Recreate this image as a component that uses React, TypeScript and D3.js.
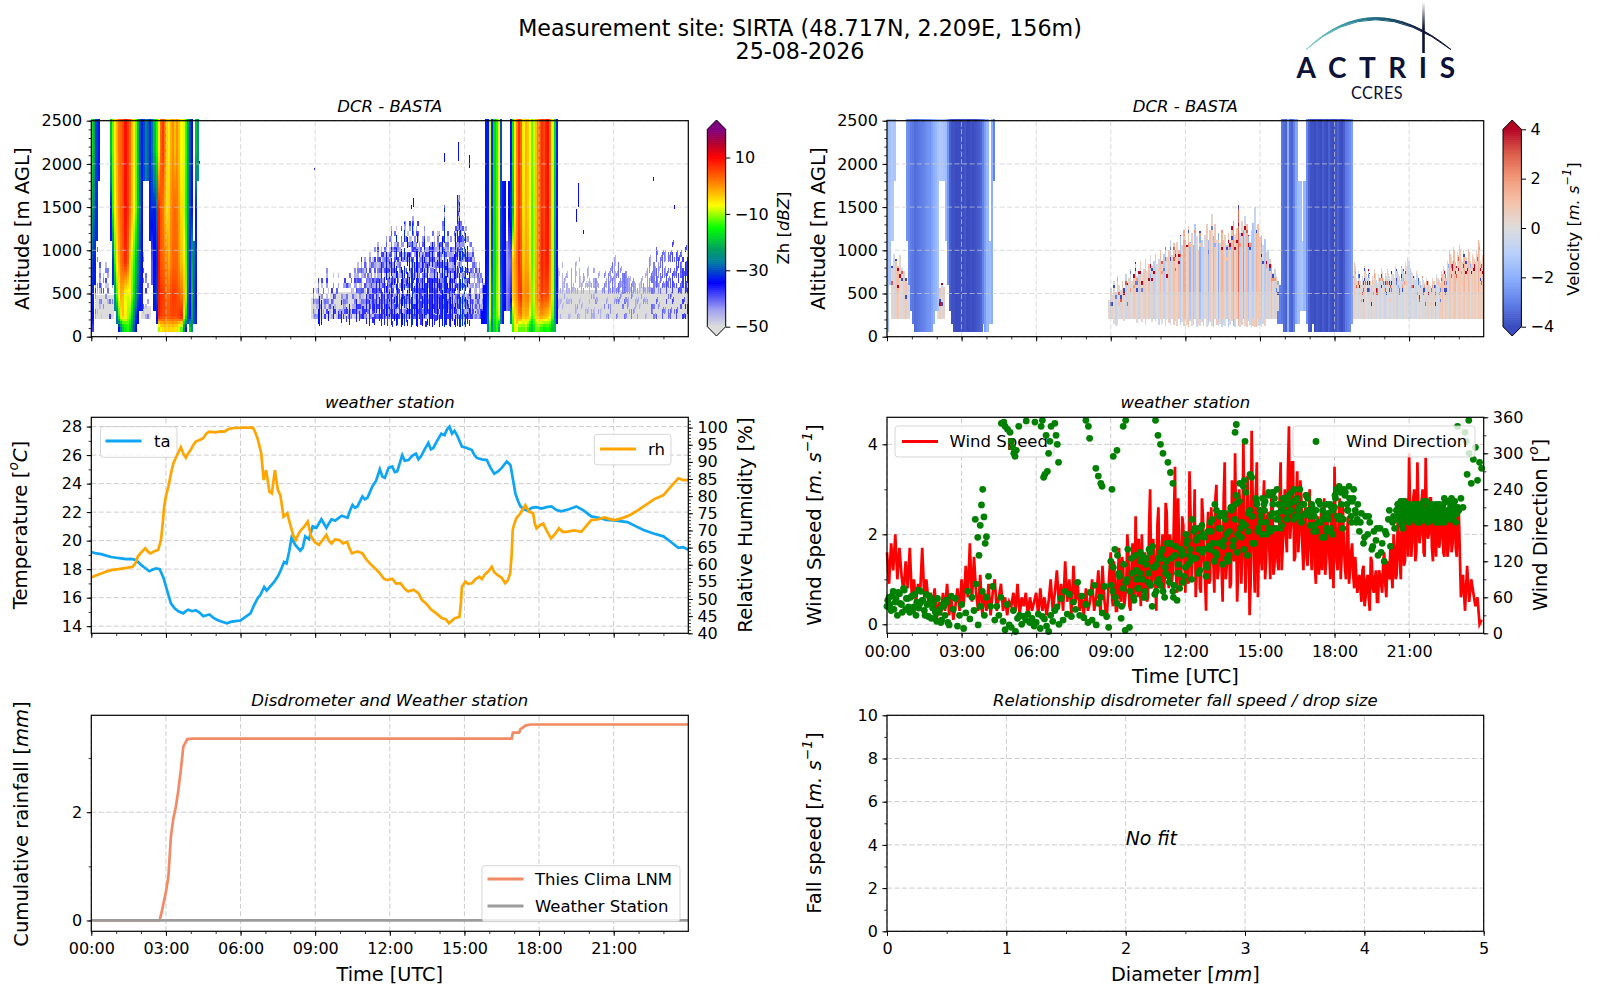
import * as d3 from "d3";
import { useEffect, useRef } from "react";

const n = null;

// ---------- radar: rain curtains, 5 minute columns ----------
const rainLayers = [
  [1800, 2500],
  [1100, 1800],
  [600, 1100],
  [300, 600],
  [140, 300],
  [60, 140],
];
const curtainAStart = 0; // column index
const curtainA = [
  [-17,-22,-31,-33,n,n,n,n,n,-20,-12,-6,-2,2,3,5,9,6,3,-3,-6,-12,-20,-30,-33,-30,-27,-29,-32,-28,-20,-14,-7,3,6,2,-4,-6,-2,0,-3,0,-3,-7,-8,-14,-22,-30,-34,n,-20,-24,n],
  [-22,-28,-32,n,n,n,n,n,n,-34,-14,-7,-3,1,3,5,9,6,2,-3,-7,-12,-20,-28,-34,n,n,n,-33,-32,-33,-28,8,4,2,-2,-5,-4,0,2,3,2,-1,-5,-9,-15,-24,-31,-34,n,-33,n,n],
  [-30,-33,n,n,n,n,n,n,n,n,-32,-14,-6,-2,2,4,7,3,-5,-10,-14,-20,-26,-31,-34,n,n,n,n,-40,-34,-32,9,4,3,2,1,-2,1,3,3,3,0,-3,-6,-12,-25,-33,-22,-28,-33,n,n],
  [-33,n,n,n,n,n,n,n,n,n,n,-26,-14,-7,-2,-3,-8,-9,-7,-12,-18,-24,-30,-33,-36,n,n,n,n,n,-33,-30,9,7,6,5,3,3,5,6,6,5,4,2,-3,-10,-28,-34,-20,-30,-34,n,n],
  [-34,n,n,n,n,n,n,n,n,n,n,n,-28,-14,-6,-3,-6,-10,-12,-18,-26,-32,-35,n,n,n,n,n,n,n,n,-33,8,6,5,5,4,4,5,5,5,5,6,8,-8,-16,-30,-34,-22,-30,-36,n,n],
  [-38,n,n,n,n,n,n,n,n,n,n,n,n,-34,-26,-20,-16,-14,-18,-24,-30,-34,n,n,n,n,n,n,n,n,n,n,-10,-6,-5,-4,-5,-4,-5,-4,-5,-5,-8,-12,-24,-34,n,-18,-26,n,n,n,n],
];
const curtainBStart = 188;
const curtainB = [
  [n,n,-33,-33,-8,-32,-18,-14,-7,-30,n,n,n,n,-34,-16,-6,1,7,3,-6,-2,-4,-7,-12,-8,-3,1,4,7,5,8,9,2,-8,-18,-33,n],
  [n,n,-34,-33,-8,-32,-18,-13,-7,-30,-33,-34,n,-34,-32,-20,-6,1,6,3,-5,-2,-4,-7,-13,-9,-3,1,4,7,5,8,9,2,-8,-20,-34,n],
  [n,n,-34,-33,-8,-30,-18,-13,-7,-30,-33,-34,-44,-42,-40,-3,-1,2,7,4,-3,-1,-2,-6,-13,-9,-2,1,5,8,6,8,8,1,-9,-22,-35,n],
  [n,-35,-34,-30,-8,-26,-18,-11,-7,-26,-33,-34,-42,-40,-36,-4,-2,0,5,7,0,1,1,-3,-11,-8,-1,1,4,6,4,5,4,-1,-9,-22,-34,n],
  [-34,-34,-33,-28,-8,-26,-16,-12,-8,-26,-33,n,n,n,-26,-12,-5,-3,0,1,-3,-2,-3,-8,-13,-10,-4,-3,-1,-1,-2,-3,-4,-6,-12,-24,-34,n],
  [n,n,n,-26,-14,-26,-18,-14,-22,n,n,n,n,n,n,-14,-8,n,-12,-12,-12,-10,-14,-18,-20,-16,-12,-12,-14,-14,-16,-15,-14,-16,-20,-20,n,n],
];
const velCurtainA = [-1.6,-1.4,-1.2,-1.3,n,n,n,n,n,-2.6,-2.8,-3.1,-3.2,-3.4,-3.3,-3.2,-3.1,-3.0,-2.9,-2.7,-2.6,-2.3,-2.0,-1.8,-1.4,-1.2,-1.3,-1.4,-1.6,-2.6,-3.6,-3.9,-3.9,-4,-4,-3.9,-4,-3.8,-4,-4,-3.9,-4,-3.9,-3.8,-3.7,-3.5,-3.0,-2.4,-1.8,-1.6,-2,n,n];
const velCurtainB = [n,n,-3.2,-3.4,-3.6,-2,-3.4,-3.6,-3,-2.2,-1.6,-1.5,-1.3,-1.8,-2.8,-3.6,-3.9,-3.9,-4,-3.8,-3.9,-4,-3.7,-3.9,-4,-3.6,-3.9,-4,-3.8,-3.6,-3.9,-4,-3.7,-3.2,-3,-2.8,-2.4,n];

// ---------- radar: clear air zones ----------
// hourStart, hourEnd, altBottom, altTop
const grayBands = [
  [0.15, 0.9, 200, 480],
  [2.0, 2.4, 200, 350],
  [8.85, 9.6, 200, 450],
  [9.6, 11.5, 200, 520],
  [11.5, 15.5, 200, 500],
  [15.5, 16.1, 200, 480],
  [18.55, 22, 200, 540],
  [22, 24, 200, 570],
];
const specks = [
  [8.96, 1930, 1950], [12.92, 1500, 1600], [12.84, 1480, 1520], [14.17, 2020, 2130],
  [14.73, 2030, 2250], [15.2, 1950, 2100], [19.56, 1500, 1780], [19.5, 1330, 1480],
  [19.77, 1190, 1230], [22.58, 1800, 1850], [23.44, 1480, 1530], [4.33, 2000, 2030],
];
// on/off pattern and shades that break the clear air columns into streaks
const speckleMask = [1,0,1,1,0,1,0,0,1,1,1,0,1,0,1,1,0,0,1,0,1,1,1,0,0,1,0,1,1,0,1,1,0,1,0,0,1];
const paleShades = [-45,-42,-47,-40,-44,-38,-46,-43,-41,-48,-39];

const earlyHours = [0.15, 0.23, 0.32, 0.4, 0.48, 0.57, 0.65, 0.73, 0.82, 2.0, 2.08, 2.17, 2.25];
const earlyTop = [780, 1000, 860, 620, 820, 900, 780, 680, 720, 720, 1000, 900, 640];
const earlyVel = [0.5, -0.4, 0.9, 1.2, 0.3, -0.2, 0.7, 1.0, -0.5, 0.4, 1.1, -0.3, 0.8];
const earlyVelEdge = [4, -4, 1, 4, -3, 3, -4, 4, 2, 4, -4, 3, 4];
const earlyVelTop = [820, 960, 900, 820, 940, 800, 760, 680, 620, 600, 560, 620, 580];

const midStart = 8.9;
const midStep = 1 / 15;
const midPaleTop = [540,470,520,650,480,700,520,460,760,530,480,600,690,500,540,780,520,560,620,700,580,
  680,720,640,760,800,700,820,760,880,780,900,820,760,960,840,900,1000,860,1050,920,
  1100,980,1040,1150,1000,1120,1240,1060,1180,1280,1120,1040,1260,1160,1340,1140,1220,1300,1120,1400,1180,1260,1340,1100,1020,1160,1260,1040,1120,1200,
  1080,1240,1120,1020,1180,1250,1080,1300,1520,1100,1180,1040,1130,1000,1180,1300,1650,1600,1320,1240,1180,1240,1180,1080,1100,1000,960,860,780,820,720,640,600];
const midCoreTop = [0,0,0,320,470,430,0,0,0,300,0,0,360,0,0,300,0,420,0,0,340,
  0,380,0,320,0,440,0,300,0,360,0,500,0,420,0,560,380,640,0,720,
  860,520,760,980,620,920,1040,700,880,1180,780,620,1020,900,1330,760,1150,1050,800,1360,860,1020,1200,700,560,940,1130,620,840,1050,
  680,1100,780,540,960,1180,620,1150,1500,820,900,640,760,700,960,1200,1640,1560,1280,1180,1150,1200,1050,760,560,420,0,300,0,0,320,0,0];
const midCoreBottom = [200,200,200,150,120,130,200,200,200,180,200,200,210,200,200,200,200,160,200,200,170,
  200,140,200,200,200,170,200,180,200,130,200,150,200,120,200,160,130,200,140,180,
  120,200,130,170,120,200,140,110,180,120,130,200,110,140,120,170,120,200,110,130,170,120,110,200,130,120,150,110,140,120,
  200,110,130,180,120,110,200,120,110,140,200,120,110,180,130,110,120,110,110,120,130,110,150,120,200,200,200,200,200,200,200,200,200];
const midCoreDbz = [-38,-38,-38,-34,-33,-33,-38,-38,-38,-35,-38,-38,-36,-38,-38,-37,-38,-36,-38,-38,-37,
  -38,-36,-38,-37,-38,-36,-38,-37,-38,-37,-38,-36,-38,-36,-38,-37,-36,-36,-38,-36,
  -36,-38,-36,-34,-37,-35,-33,-37,-35,-33,-36,-38,-34,-35,-32,-37,-34,-34,-36,-32,-36,-34,-33,-37,-38,-35,-33,-37,-35,-33,
  -37,-34,-36,-38,-35,-33,-37,-34,-32,-36,-35,-37,-35,-36,-35,-33,-32,-32,-32,-32,-31,-32,-33,-36,-37,-38,-40,-38,-40,-40,-38,-40,-40];
const midVelTop = [420,560,480,650,520,700,600,540,650,560,720,620,680,780,640,720,860,700,760,880,720,
  780,900,760,840,950,820,880,960,840,900,1000,880,960,1040,920,1000,1120,940,1080,1000,
  1100,1000,1180,1060,1240,1120,1060,1280,1100,1200,1060,1300,1160,1000,1220,1120,1040,1180,1300,1120,1240,1420,1160,1300,1120,1200,1080,1240,1120,1180,
  1060,1200,1120,1280,1340,1180,1260,1520,1200,1340,1240,1400,1300,1180,1100,1240,1320,1500,1240,1300,1150,1180,1060,1130,980,1000,900,840,740,780,700,640,600];
const midVel = [0.4,-0.6,0.8,0.2,-1.0,0.6,0.3,-0.5,0.9,0.1,-0.8,0.5,0.7,-0.3,0.2,1.0,-0.6,0.4,-0.9,0.6,0.2,
  0.8,-0.7,0.3,1.1,-0.4,0.6,-1.0,0.9,0.2,-0.5,1.2,0.4,-1.1,0.7,0.1,1.0,-0.8,0.5,1.1,-0.6,
  0.6,1.3,-1.4,0.4,1.6,-1.6,0.3,0.9,-1.8,0.7,1.8,-1.2,0.2,0.8,-2.0,-0.9,1.0,-0.4,0.6,-1.7,1.0,0.3,-1.5,0.8,0.2,-2.1,0.6,1.4,-1.0,0.5,
  -1.3,0.9,-0.2,1.2,-1.9,0.4,1.1,2.8,-1.0,0.7,2.2,-0.6,1.3,-1.7,0.5,1.0,-1.3,-0.6,1.4,1.1,0.8,1.6,-0.3,-1.2,0.6,-0.9,0.8,-1.4,0.5,-0.7,0.9,-0.4,0.3];
const midVelEdge = [4,-4,1,4,-3,2,4,-4,3,1,-4,4,2,-3,4,1,-4,3,4,-2,1,4,-4,2,-3,4,1,-4,4,3,-4,2,4,1,-3,4,-4,2,4,-3,1,3,-4,1,4,2,-3,2,1,-4,3,1,4,-3,2,1,3,-4,1,2,-3,1,3,2,-4,1,4,-2,2,1,-3,2,4,1,-3,2,1,4,-2,1,3,-4,2,1,-3,4,-2,1,3,-4,4,2,-3,4,1,-4,4,2,-4,4,1,-3,4,-4];

const rightStart = 18.6;
const rightStep = 1 / 12;
const rightTop = [900,600,780,520,840,640,700,560,760,620,820,540,900,660,720,600,840,680,580,760,640,700,540,620,700,640,720,780,820,900,740,840,760,720,700,660,680,620,640,600,560,600,640,620,700,760,880,720,960,1000,820,900,980,1020,860,1000,940,1060,880,960,900,980,920,1000,900];
const rightDbz = [-46,-44,-46,-45,-46,-44,-45,-46,-44,-46,-45,-44,-46,-45,-44,-46,-45,-46,-44,-45,-43,-44,-46,-43,-42,-44,-42,-43,-41,-44,-42,-41,-43,-42,-41,-43,-44,-42,-43,-45,-44,-46,-44,-43,-45,-44,-43,-41,-42,-40,-43,-41,-40,-42,-39,-41,-40,-38,-41,-39,-38,-40,-38,-37,-38];
const rightVelTop = [820,740,860,680,760,640,700,820,720,780,640,700,780,660,720,800,680,740,780,700,760,720,820,760,700,820,780,860,920,800,740,700,760,680,640,700,620,680,640,600,680,640,720,660,760,820,720,880,1000,920,1040,860,980,1060,900,1000,920,1020,880,960,900,1000,1120,880,950];
const rightVel = [0.6,-0.4,0.9,0.2,-0.6,0.5,-0.3,0.7,0.1,-0.5,0.4,-0.2,0.5,-0.7,0.2,-0.1,0.3,-0.8,0.2,-0.4,0.1,-0.6,0.3,-0.9,-0.2,0.2,-0.5,-0.1,0.3,-0.7,0.2,-0.3,-0.6,0.1,0.3,-0.4,0.4,-0.2,0.6,-0.1,0.5,0.2,-0.3,0.7,0.9,0.3,1.0,0.5,1.2,-0.2,0.9,1.3,0.4,0.8,-0.3,1.1,0.5,1.3,0.2,0.8,1.0,0.4,1.4,0.7,1.0];
const rightVelEdge = [4,-4,2,-3,4,1,-4,3,-2,4,1,-3,4,2,-4,1,3,-3,4,1,-4,2,3,-4,1,4,-3,2,4,-4,1,3,-3,1,4,-2,1,3,-3,2,1,4,-2,3,1,-4,4,2,-4,3,4,-3,1,4,-4,2,3,-4,4,1,-3,4,3,-4,2];

// ---------- weather station ----------
// [hour, degC]
const taSeries = [[0,19.2],[0.2,19.1],[0.4,19.05],[0.6,18.95],[0.8,18.85],[1,18.8],[1.2,18.75],[1.4,18.7],[1.6,18.72],[1.8,18.65],[2,18.3],[2.15,18.1],[2.33,17.85],[2.45,17.95],[2.6,18.05],[2.75,18],[2.9,17.4],[3.05,16.5],[3.2,15.6],[3.35,15.25],[3.5,15.05],[3.7,14.9],[3.8,15.05],[3.9,15.15],[4.05,15.05],[4.2,15.12],[4.35,14.95],[4.5,14.7],[4.6,14.75],[4.75,14.82],[4.9,14.6],[5.05,14.45],[5.2,14.35],[5.45,14.2],[5.6,14.3],[5.8,14.35],[6,14.4],[6.2,14.65],[6.4,14.9],[6.55,15.5],[6.7,16],[6.8,16.2],[6.95,16.75],[7.05,16.5],[7.2,16.8],[7.35,17.1],[7.5,17.5],[7.6,17.85],[7.75,18.5],[7.85,18.4],[7.95,19.2],[8.05,20.2],[8.2,19.7],[8.4,19.3],[8.5,19.5],[8.6,20.3],[8.75,20.1],[8.9,21],[9.05,20.9],[9.25,21.5],[9.45,20.9],[9.55,21.2],[9.66,21.5],[9.8,21.4],[10.07,21.75],[10.3,21.6],[10.4,22.1],[10.5,22.5],[10.6,22.3],[10.7,22.4],[10.9,23.1],[11,22.9],[11.1,23],[11.3,23.8],[11.45,24.2],[11.6,25],[11.7,24.5],[11.8,24.4],[11.95,25.1],[12.1,25.2],[12.2,24.8],[12.3,24.85],[12.5,26],[12.6,25.6],[12.75,25.65],[12.9,25.95],[13.05,26.1],[13.15,25.7],[13.25,25.9],[13.4,26.4],[13.55,26.85],[13.65,26.4],[13.75,26.5],[13.9,27],[14.07,27.5],[14.2,27.4],[14.3,27.8],[14.4,28],[14.5,27.5],[14.6,27.7],[14.7,27.4],[14.8,27],[14.9,26.6],[15.1,26.5],[15.3,26.35],[15.4,26],[15.5,25.8],[15.7,25.7],[15.9,25.65],[16.05,25.1],[16.2,24.7],[16.35,24.85],[16.5,25.1],[16.7,25.55],[16.85,25.3],[16.95,24.3],[17.05,23.3],[17.15,22.8],[17.25,22.4],[17.4,22.2],[17.55,22.1],[17.7,22.3],[17.9,22.35],[18.1,22.25],[18.3,22.35],[18.5,22.4],[18.7,22.15],[18.9,22.05],[19.2,22.2],[19.5,22.4],[19.8,22.1],[20.1,21.7],[20.4,21.6],[20.7,21.45],[21.1,21.4],[21.55,21.3],[21.9,21],[22.2,20.75],[22.6,20.5],[23,20.3],[23.3,19.9],[23.6,19.5],[23.8,19.55],[24,19.35]];
// [hour, percent]
const rhSeries = [[0,56.3],[0.2,56.9],[0.43,57.5],[0.6,58],[0.84,58.5],[1.1,58.7],[1.35,59],[1.66,59.4],[1.78,60.5],[1.87,62.4],[2,63.5],[2.17,64.8],[2.28,63.8],[2.38,63.3],[2.55,64],[2.69,64.3],[2.8,67.2],[2.87,72],[2.93,77],[3,80],[3.1,82.8],[3.2,86.5],[3.3,89.6],[3.45,92],[3.6,94.3],[3.7,92.4],[3.8,91.2],[3.9,92.6],[4,93.5],[4.1,94.9],[4.2,95.9],[4.35,96.4],[4.5,96.9],[4.62,98.2],[4.74,98.8],[5,98.6],[5.2,98.9],[5.35,98.8],[5.5,99.5],[5.66,99.8],[6,99.95],[6.5,100],[6.6,98.5],[6.7,96.4],[6.83,92.5],[6.93,84.7],[7.03,87.6],[7.16,81.3],[7.26,80.8],[7.38,87.6],[7.5,81.8],[7.6,80.3],[7.73,74],[7.88,75],[8.02,71.1],[8.12,68.5],[8.22,67.2],[8.33,69],[8.43,70.1],[8.55,71],[8.7,72.6],[8.84,68.2],[9,66.5],[9.15,65.8],[9.3,67.2],[9.45,68.7],[9.55,67],[9.66,66.2],[9.8,67.4],[9.97,67.2],[10.12,66.2],[10.28,66.7],[10.38,64.8],[10.48,63.3],[10.7,63.9],[10.9,63.3],[11.05,61.6],[11.2,60.4],[11.4,59],[11.6,57.5],[11.75,56],[11.9,55.5],[12.1,55.9],[12.25,54.5],[12.43,54.6],[12.6,53],[12.74,52.2],[12.95,52.7],[13.15,51.7],[13.3,49.6],[13.46,48.7],[13.65,47],[13.87,45.8],[14.1,44.4],[14.25,44.1],[14.38,42.9],[14.6,44.3],[14.8,44.8],[14.86,49],[14.9,53.6],[15.04,55.1],[15.15,54.4],[15.3,54.6],[15.45,55.8],[15.6,56.5],[15.7,55.8],[15.8,57],[15.95,58],[16.1,59.4],[16.2,57.8],[16.33,57],[16.5,56.2],[16.64,54.6],[16.75,55.5],[16.84,57.5],[16.9,63],[16.94,70.1],[17,71.8],[17.08,73.5],[17.25,75],[17.45,77.4],[17.6,75.5],[17.76,75],[17.83,72],[17.9,70.6],[18.05,71.6],[18.17,72],[18.3,70],[18.48,67.7],[18.65,69],[18.8,70.6],[18.95,69.6],[19.1,69.6],[19.4,70],[19.7,69.6],[19.9,71.3],[20.1,73],[20.35,73.2],[20.63,73.8],[20.85,73.3],[21.05,73],[21.35,73.6],[21.66,74.5],[22,76],[22.28,77.4],[22.65,79.2],[23,80.3],[23.3,82.8],[23.6,85.2],[23.8,84.7],[24,84.7]];

const windStep = 1 / 12;
const windSpeed = [
  1.6,0.9,1.8,1.2,2.0,1.0,1.7,1.1,0.7,1.4,0.8,1.7,
  0.6,1.0,0.5,0.9,0.7,1.7,0.6,1.0,0.5,0.7,0.4,0.8,
  0.1,0.5,0.2,0.7,0.3,0.9,0.2,0.6,0.1,0.4,0.8,0.3,
  1.0,0.4,1.3,0.6,1.8,0.5,1.5,0.7,0.3,1.1,0.2,0.7,
  0.3,0.9,0.2,0.7,1.0,0.3,0.6,0.9,0.3,0.6,0.2,0.5,
  0.4,0.7,0.3,0.9,0.2,0.6,0.4,0.7,0.2,0.6,0.3,0.5,
  0.7,0.2,0.8,0.3,0.6,0.2,0.5,1.0,0.3,0.7,1.2,0.4,
  0.9,0.3,1.4,0.5,1.0,0.2,1.3,0.5,0.9,0.3,0.6,0.2,
  0.8,0.3,0.5,1.0,0.3,0.6,1.2,0.2,1.3,0.5,0.1,0.9,
  1.6,0.4,1.0,0.3,1.7,0.5,1.3,0.6,2.0,0.4,1.2,0.5,
  2.4,0.6,1.0,2.0,0.7,1.4,0.6,3.0,0.8,1.5,0.3,2.6,
  0.8,2.0,1.0,2.5,0.8,1.8,1.2,3.5,0.7,1.7,1.0,2.2,
  0.7,1.3,3.4,1.0,1.8,0.6,2.2,0.8,2.8,1.4,0.3,2.5,
  1.0,2.2,0.7,3.1,1.2,2.0,0.5,3.6,1.3,2.6,0.9,1.8,
  3.8,0.5,3.0,0.9,4.1,0.7,3.3,0.2,4.3,1.5,2.9,0.6,
  2.6,1.2,3.2,1.4,2.5,1.0,3.0,1.3,2.2,1.2,3.6,1.7,
  3.0,1.6,4.4,2.2,3.6,1.5,3.4,2.0,2.8,1.2,2.6,1.3,
  3.0,1.2,2.5,0.9,2.4,1.6,1.2,2.8,1.4,2.1,1.0,2.0,
  3.5,1.4,2.4,1.0,2.7,1.3,2.0,0.9,1.6,1.1,1.5,0.7,
  1.1,0.5,1.3,0.6,1.1,0.3,1.4,0.7,1.2,0.5,1.1,0.7,
  1.6,0.6,1.3,1.8,0.8,1.7,1.1,2.0,1.0,2.2,1.4,2.4,
  3.8,1.5,2.8,1.4,3.6,1.8,2.7,1.6,3.7,1.9,2.8,1.7,
  2.6,1.5,2.6,1.9,2.7,1.5,2.3,1.7,2.6,1.8,2.7,1.5,
  2.5,0.6,1.1,0.3,1.3,0.5,1.0,0.7,0.4,0.6,0.0,0.1,
];
// in-between readings of the busy hours, 09:02 to 22:57
const windSpeedBusyStart = 9 + 1 / 24;
const windSpeedBusy = [
  0.7,1.4,0.3,1.1,0.6,1.5,0.4,0.9,1.6,0.3,1.8,0.7,
  1.2,1.9,0.4,1.1,1.6,0.5,2.2,1.0,1.9,0.9,2.2,1.1,
  1.6,0.6,2.7,1.3,2.0,0.9,2.4,1.1,2.8,0.8,2.4,1.5,
  2.0,0.9,2.5,1.5,3.0,1.2,2.1,0.7,2.4,1.0,2.0,0.9,
  2.6,1.4,2.8,1.0,2.4,1.2,2.8,1.0,2.2,0.8,3.2,1.4,
  2.2,1.2,2.6,1.6,2.2,1.4,2.5,0.9,2.8,0.7,3.6,1.6,
  1.5,2.6,1.0,2.4,1.7,2.8,1.1,2.0,1.4,2.8,1.2,2.4,
  2.0,3.4,1.9,3.6,1.4,2.8,1.6,3.2,1.7,2.4,1.5,2.2,
  1.7,2.6,1.3,2.0,1.1,2.5,1.7,1.1,2.3,1.5,2.6,0.8,
  2.2,1.2,2.8,1.6,1.8,1.0,2.4,1.2,1.8,0.8,1.1,0.9,
  0.8,1.2,0.4,1.0,0.6,1.5,0.8,1.0,0.5,1.2,0.9,1.4,
  0.9,1.4,1.0,1.1,2.0,1.0,2.3,1.4,2.7,1.3,2.8,1.5,
  2.5,1.8,3.0,1.6,2.6,2.0,3.0,1.5,2.4,2.0,2.8,1.4,
  2.1,2.6,1.7,2.2,1.6,2.5,1.5,2.5,1.6,2.4,1.7,2.6,
];
const windDir = [
  45,60,38,70,52,30,66,48,75,40,58,35,
  62,44,30,72,50,55,38,65,28,58,42,25,
  20,35,18,48,30,52,14,62,40,58,12,30,
  48,8,34,70,24,60,38,82,14,45,70,30,
  60,95,45,78,22,45,30,60,20,6,48,14,
  10,38,3,25,30,15,28,22,32,18,25,12,
  18,32,8,28,24,12,3,30,20,38,44,15,
  58,22,70,32,65,28,52,40,85,30,62,26,
  48,18,68,22,80,14,50,60,34,78,28,10,
  120,70,140,50,100,25,75,5,90,10,125,60,
  130,75,100,130,60,115,85,135,45,110,70,125,
  80,140,60,120,95,150,70,130,55,100,140,85,
  110,155,130,90,170,125,160,105,180,140,95,170,
  140,190,120,205,150,175,115,200,165,130,210,145,
  190,135,220,160,245,180,130,205,260,150,225,170,
  205,165,215,185,230,170,200,225,190,215,175,205,
  215,190,230,205,220,195,225,210,185,215,200,225,
  195,215,170,205,185,215,160,195,175,200,215,165,
  210,240,190,235,175,230,215,245,195,225,205,190,
  170,200,150,195,165,185,140,170,155,130,175,150,
  120,165,190,145,185,175,205,195,220,175,200,215,
  190,205,215,195,210,185,205,220,190,210,195,205,
  190,215,200,185,210,225,195,205,215,190,220,200,
  205,225,210,335,265,300,250,290,310,255,285,275,
];
// readings off the main track: the high cluster and outliers
const dirOutlierHours = [3.55,3.65,3.7,3.75,3.8,3.85,3.9,3.95,4.0,4.6,4.7,4.75,4.85,4.95,5.0,5.05,5.1,5.15,5.2,5.3,5.6,5.95,6.2,6.25,6.3,6.35,6.4,6.45,6.5,6.55,6.6,6.75,6.8,6.85,6.9,8,8.1,8.15,8.4,8.5,8.6,8.65,9.05,9.1,9.25,9.5,9.6,10.8,10.9,11,11.1,11.3,11.4,11.5,14,14.05,14.4,22.95,23.3,23.4];
const dirOutlierValues = [190,160,130,180,214,240,194,150,161,350,352,345,340,335,320,310,300,295,305,345,354,352,345,355,260,265,330,270,300,320,345,350,330,315,285,355,345,325,275,262,250,245,240,295,305,345,355,355,330,315,300,285,268,250,335,348,320,345,320,355];
const dirDenseStart = 10.04;
const dirDenseStep = 1 / 6;
const dirDense = [
  90,120,70,140,110,85, 125,100,150,80,115,135, 150,120,175,140,165,110,
  170,135,195,155,120,210, 230,175,255,200,150,215, 195,220,175,235,200,180,
  220,205,240,195,215,230, 205,180,220,190,170,210, 225,195,240,205,220,185,
  185,160,195,145,175,135, 170,205,195,215,180,210, 200,215,190,205,220,195,
  205,195,215,200,225,210,
];
const dirEarlyStart = 0.03;
const dirEarly = [55,48,62,40,58,68,50,35,72,58,44,60,38,65,52,42,70,55,30,48,62,25,50,35,58,40,22,45,55,18];
const dirDayStart = 9.02;
const dirDay = [
  80,110,60,130,95,45,115,85,140,70,100,55,
  105,75,135,90,60,125,100,80,145,65,115,90,
  135,70,110,150,85,125,60,145,100,75,130,95,
  165,115,140,190,125,155,100,175,135,160,115,145,
  185,150,215,130,175,200,145,190,125,170,205,155,
  215,165,250,185,140,235,170,265,195,150,220,175,
  185,225,205,165,235,195,215,175,240,190,205,225,
  225,200,215,235,190,220,205,240,195,215,230,205,
  180,210,195,170,220,185,205,160,215,190,175,205,
  230,195,245,215,190,235,205,225,185,240,200,215,
];
const dirEveningStart = 20.5;
const dirEvening = [205,190,215,200,185,210,195,220,200,190,205,215,185,200,210,195,215,190,205,200,185,215,200,195,210,190,205,220,195,200,185,210,205,195,215,190,200,210,185,205,195,215,200,190,210,205,185,200,220,195,205,190,210,200,215,195,205,185,200,210];

// ---------- rainfall ----------
const rainHours = [0,2.75,2.85,3,3.1,3.2,3.3,3.4,3.5,3.6,3.7,3.86,4.1,16.9,16.95,17.2,17.25,17.45,17.66,24];
const rainThies = [0,0,0.2,0.53,0.81,1.55,1.89,2.1,2.41,2.78,3.21,3.35,3.36,3.36,3.47,3.47,3.53,3.6,3.62,3.62];
const rainStationHours = [0, 24];
const rainStation = [0, 0];

// ---------- axes and colours ----------
const timeTicks = d3.range(0, 24, 3);
const timeMinor = d3.range(0, 24, 1);
const altitudeTicks = d3.range(0, 2501, 500);
const altitudeMinor = d3.range(0, 2501, 100);
const zhStops = [-50, -44, -34.5, -27, -22.5, -15, -7, 0, 10, 15, 20];
const zhColors = ["#dcdcdc", "#a0a0f0", "#0000ff", "#0080a0", "#00a060", "#00ff00", "#ffff00", "#ff9000", "#ff0000", "#b00030", "#800080"];
const velStops = [-4, -3, -2, -1, 0, 1, 2, 3, 4];
const velColors = ["#3b4cc0", "#6282ea", "#8db0fe", "#b9d0f9", "#dddcdc", "#f5c4ac", "#f49a7b", "#dc5d4a", "#b40426"];

const FONT = "'DejaVu Sans', sans-serif";
const colLeft = [91.3, 688.3];
const colRight = [887, 1483.7];
const row1 = [336.7, 120.7];
const row2 = [633.3, 417.3];
const row3 = [931.3, 715.3];
const hh = (d: any) => String(d).padStart(2, "0") + ":00";
const GRID = "#cccccc";
const maskAt = (i: number) => speckleMask[i % speckleMask.length];
const streakOn = (k: number, b: number) => maskAt(k * k * 3 + b * 5);
const streakAlso = (k: number, b: number) => maskAt(k * k + b * 2);

function addAxis(g: any, axis: any, ticks: number[], minor: number[], fmt: any, tx: number, ty: number, pad = 4.5) {
  const major = g.append("g").attr("transform", `translate(${tx},${ty})`)
    .call(axis.tickValues(ticks).tickSize(4.6).tickPadding(pad).tickFormat(fmt));
  major.select(".domain").remove();
  major.selectAll("line").attr("stroke-width", 1);
  major.selectAll("text").attr("font-family", FONT).attr("font-size", 16).attr("fill", "#000");
  const mn = g.append("g").attr("transform", `translate(${tx},${ty})`)
    .call(axis.tickValues(minor).tickSize(2.7).tickFormat(() => ""));
  mn.select(".domain").remove();
  mn.selectAll("line").attr("stroke-width", 0.8);
}

function addGrid(g: any, x: any, y: any, xt: number[], yt: number[], opacity = 1) {
  const [x0, x1] = x.range();
  const [y0, y1] = y.range();
  const grid = g.append("g").attr("stroke", GRID).attr("stroke-width", 1).attr("stroke-dasharray", "5,2.5").attr("opacity", opacity);
  grid.selectAll("line.v").data(xt).join("line").attr("x1", (d: number) => x(d)).attr("x2", (d: number) => x(d)).attr("y1", y0).attr("y2", y1);
  grid.selectAll("line.h").data(yt).join("line").attr("class", "h").attr("x1", x0).attr("x2", x1).attr("y1", (d: number) => y(d)).attr("y2", (d: number) => y(d));
}

function addFrame(g: any, x: any, y: any) {
  const [x0, x1] = x.range();
  const [y0, y1] = y.range();
  g.append("rect").attr("x", x0).attr("y", y1).attr("width", x1 - x0).attr("height", y0 - y1)
    .attr("fill", "none").attr("stroke", "#000").attr("stroke-width", 1.2);
}

function addTitle(g: any, x: any, y: any, text: string) {
  const [x0, x1] = x.range();
  g.append("text").attr("x", (x0 + x1) / 2).attr("y", y.range()[1] - 9).attr("text-anchor", "middle")
    .attr("font-family", FONT).attr("font-style", "italic").attr("font-size", 16.5).text(text);
}

// parts: [text, style] with style "" | "i" | "s" (italic superscript)
function addVLabel(g: any, cx: number, cy: number, parts: [string, string][], size: number) {
  const t = g.append("text").attr("transform", `translate(${cx},${cy}) rotate(-90)`).attr("text-anchor", "middle")
    .attr("dominant-baseline", "central").attr("font-family", FONT).attr("font-size", size);
  parts.forEach(([s, st], i) => {
    const ts = t.append("tspan").text(s);
    if (st === "i" || st === "s") ts.attr("font-style", "italic");
    if (st === "s") ts.attr("font-size", size * 0.7).attr("dy", -size * 0.36);
    if (i > 0 && parts[i - 1][1] === "s") ts.attr("dy", size * 0.36);
  });
}

function addXLabel(g: any, cx: number, y: number, parts: [string, string][]) {
  const t = g.append("text").attr("x", cx).attr("y", y).attr("text-anchor", "middle").attr("font-family", FONT).attr("font-size", 19.3);
  parts.forEach(([s, st]) => {
    const ts = t.append("tspan").text(s);
    if (st === "i") ts.attr("font-style", "italic");
  });
}

function addLegendBox(g: any, x: number, y: number, w: number, h: number) {
  g.append("rect").attr("x", x).attr("y", y).attr("width", w).attr("height", h).attr("rx", 3)
    .attr("fill", "#fff").attr("fill-opacity", 0.8).attr("stroke", "#cccccc").attr("stroke-opacity", 0.8).attr("stroke-width", 1);
}

function addLegendLine(g: any, x0: number, x1: number, y: number, color: string, text: string, tx: number) {
  g.append("line").attr("x1", x0).attr("x2", x1).attr("y1", y).attr("y2", y).attr("stroke", color).attr("stroke-width", 2.8);
  g.append("text").attr("x", tx).attr("y", y).attr("dominant-baseline", "central").attr("font-family", FONT).attr("font-size", 16.5).text(text);
}

function addCell(g: any, x: any, y: any, h0: number, h1: number, a0: number, a1: number, fill: string) {
  g.append("rect").attr("x", x(h0)).attr("width", Math.max(x(h1) - x(h0), 0.6))
    .attr("y", y(a1)).attr("height", y(a0) - y(a1)).attr("fill", fill).attr("shape-rendering", "crispEdges");
}

// each layer is shaded towards its neighbour so the curtain has no hard steps
function curtainCells(g: any, x: any, y: any, rows: any[][], start: number, color: (v: number, i: number) => string, isVel = false) {
  const centers = rainLayers.map(([a0, a1]) => (a0 + a1) / 2);
  d3.range(60, 2500, 30).forEach((alt) => {
    const r = rainLayers.findIndex(([a0, a1]) => alt >= a0 && alt < a1);
    if (r < 0) return;
    const other = alt > centers[r] ? r - 1 : r + 1;
    rows[r].forEach((v, i) => {
      if (v === null) return;
      let value = v;
      const nb = rows[other] ? rows[other][i] : null;
      if (nb !== null && nb !== undefined && !isVel) {
        const t = Math.abs(alt - centers[r]) / Math.abs(centers[other] - centers[r]);
        value = v + (nb - v) * t;
      }
      const c = start + i;
      g.append("rect").attr("x", x(c / 12)).attr("width", x((c + 1) / 12) - x(c / 12) + 0.3)
        .attr("y", y(alt + 30)).attr("height", y(alt) - y(alt + 30) + 0.3).attr("fill", color(value, i))
        .attr("shape-rendering", "crispEdges");
    });
  });
}

function addColorbar(g: any, xPos: number, scale: any, stops: number[], ticks: number[], fmt: any) {
  const y = d3.scaleLinear().domain([stops[0], stops[stops.length - 1]]).range([326.7, 129.3]);
  const step = (y.domain()[1] - y.domain()[0]) / 300;
  g.selectAll(null).data(d3.range(y.domain()[0], y.domain()[1], step)).join("rect")
    .attr("x", xPos).attr("width", 18.4).attr("y", (d: number) => y(d + step) - 0.3)
    .attr("height", (d: number) => y(d) - y(d + step) + 0.6).attr("fill", (d: number) => scale(d));
  const mid = xPos + 9.2;
  const outline = `M${xPos},129.3L${mid},120L${xPos + 18.4},129.3L${xPos + 18.4},326.7L${mid},336L${xPos},326.7Z`;
  g.append("path").attr("d", `M${xPos},129.3L${mid},120L${xPos + 18.4},129.3Z`).attr("fill", scale(stops[stops.length - 1]));
  g.append("path").attr("d", `M${xPos},326.7L${mid},336L${xPos + 18.4},326.7Z`).attr("fill", scale(stops[0]));
  g.append("path").attr("d", outline).attr("fill", "none").attr("stroke", "#000").attr("stroke-width", 1);
  addAxis(g, d3.axisRight(y), ticks, [], fmt, xPos + 18.4, 0);
}

function addLogo(svg: any) {
  const defs = svg.append("defs");
  const grad = defs.append("linearGradient").attr("id", "actris-arc").attr("gradientUnits", "userSpaceOnUse")
    .attr("x1", 1306).attr("x2", 1451).attr("y1", 0).attr("y2", 0);
  [["0", "#86d3ce"], ["0.3", "#2f8f9e"], ["0.55", "#1a5a72"], ["0.8", "#0c1238"], ["1", "#0c1238"]].forEach(([o, c]) =>
    grad.append("stop").attr("offset", o).attr("stop-color", c));
  const fade = defs.append("linearGradient").attr("id", "actris-mast").attr("x1", 0).attr("x2", 0).attr("y1", 0).attr("y2", 1);
  [["0", "#ffffff"], ["0.5", "#0c1238"], ["1", "#0c1238"]].forEach(([o, c]) =>
    fade.append("stop").attr("offset", o).attr("stop-color", c));
  const g = svg.append("g");
  g.append("path").attr("d", "M1306,49.6Q1373,-14.5 1451,49.6Q1373,-10 1306,49.6Z").attr("fill", "url(#actris-arc)")
    .attr("stroke", "url(#actris-arc)").attr("stroke-width", 1);
  g.append("rect").attr("x", 1422.2).attr("y", 2).attr("width", 2.6).attr("height", 51).attr("fill", "url(#actris-mast)");
  g.append("text").attr("x", 1296.5).attr("y", 77.5).attr("textLength", 158.5).attr("lengthAdjust", "spacing")
    .attr("font-family", "Lato, sans-serif").attr("font-weight", 700).attr("font-size", 28).attr("fill", "#0c1238").text("ACTRIS");
  g.append("text").attr("x", 1377).attr("y", 98.5).attr("text-anchor", "middle")
    .attr("font-family", "Lato, sans-serif").attr("font-size", 16.3).attr("letter-spacing", 0.4).attr("fill", "#0c1238").text("CCRES");
}

function drawChart(el: SVGSVGElement) {
  const svg = d3.select(el);
  svg.selectAll("*").remove();

  const zhColor = d3.scaleLinear<string>().domain(zhStops).range(zhColors).clamp(true);
  const velColor = d3.scaleLinear<string>().domain(velStops).range(velColors).clamp(true);

  // title
  const title = svg.append("g").attr("font-family", FONT).attr("font-size", 22.2).attr("text-anchor", "middle");
  title.append("text").attr("x", 800).attr("y", 35.5).text("Measurement site: SIRTA (48.717N, 2.209E, 156m)");
  title.append("text").attr("x", 800).attr("y", 59).text("25-08-2026");
  addLogo(svg);

  // ---- reflectivity ----
  {
    const x = d3.scaleLinear().domain([0, 24]).range(colLeft);
    const y = d3.scaleLinear().domain([0, 2500]).range(row1);
    const g = svg.append("g");
    const cells = g.append("g");
    grayBands.forEach(([h0, h1, a0, a1]) => addCell(cells, x, y, h0, h1, a0, a1, zhColor(-50)));
    earlyHours.forEach((h, k) => {
      d3.range(200, earlyTop[k], 60).forEach((a, b) => {
        if (!streakOn(k, b) || (a < 480 && !streakAlso(k, b))) return;
        addCell(cells, x, y, h, h + 0.05, a, a + 60, zhColor(paleShades[(k * k + b) % paleShades.length]));
      });
    });
    midPaleTop.forEach((top, k) => {
      const h = midStart + k * midStep;
      d3.range(200, top, 60).forEach((a, b) => {
        const on = k < 25 ? streakOn(k, b) : streakOn(k, b) || streakAlso(k, b);
        if (!on) return;
        addCell(cells, x, y, h, h + midStep, a, a + 60, zhColor(paleShades[(k * k + b) % paleShades.length]));
      });
    });
    midCoreTop.forEach((top, k) => {
      if (!top) return;
      const h = midStart + k * midStep;
      d3.range(midCoreBottom[k], top, 70).forEach((a, b) => {
        if (!streakOn(k + 3, b) && !streakAlso(k + 3, b)) return;
        addCell(cells, x, y, h, h + midStep * 0.7, a, Math.min(a + 70, top), zhColor(midCoreDbz[k]));
      });
    });
    rightTop.forEach((top, k) => {
      const h = rightStart + k * rightStep;
      d3.range(200, top, 60).forEach((a, b) => {
        if (a < 500 ? !(streakOn(k, b) && streakAlso(k, b)) : !(streakOn(k, b) || streakAlso(k, b))) return;
        addCell(cells, x, y, h, h + rightStep * 0.55, a, a + 60, zhColor(rightDbz[k]));
        if (streakOn(k + 5, b)) addCell(cells, x, y, h + rightStep * 0.5, h + rightStep, a + 20, a + 80, zhColor(rightDbz[k] - 2));
      });
    });
    specks.forEach(([h, a0, a1]) => addCell(cells, x, y, h, h + 0.04, a0, a1, zhColor(-35)));
    curtainCells(cells, x, y, curtainA, curtainAStart, (v) => zhColor(v));
    curtainCells(cells, x, y, curtainB, curtainBStart, (v) => zhColor(v));
    addGrid(g, x, y, timeTicks, altitudeTicks, 0.7);
    addAxis(g, d3.axisBottom(x), timeTicks, timeMinor, () => "", 0, row1[0]);
    addAxis(g, d3.axisLeft(y), altitudeTicks, altitudeMinor, (d: any) => d, colLeft[0], 0);
    addFrame(g, x, y);
    addTitle(g, x, y, "DCR - BASTA");
    addVLabel(g, 22, 228.7, [["Altitude [m AGL]", ""]], 19.6);
    addColorbar(g, 707.3, zhColor, [-50, 20], [-50, -30, -10, 10], (d: number) => String(d).replace("-", "\u2212"));
    addVLabel(g, 783, 228, [["Zh [", ""], ["dBZ", "i"], ["]", ""]], 16.5);
  }

  // ---- velocity ----
  {
    const x = d3.scaleLinear().domain([0, 24]).range(colRight);
    const y = d3.scaleLinear().domain([0, 2500]).range(row1);
    const g = svg.append("g");
    const cells = g.append("g");
    // one clear air column: pale streak, with speckles near its top
    const velColumn = (h: number, w: number, k: number, top: number, v: number, edges: number[]) => {
      d3.range(200, top, 40).forEach((a, b) => {
        const speck = top - a < 280 && !streakOn(k, b) && !streakAlso(k + 2, b);
        const value = speck ? edges[(k * k * 2 + b * 7) % edges.length] : a < 500 ? v * 0.7 : v;
        addCell(cells, x, y, h, h + w, a, Math.min(a + 40, top), velColor(value));
      });
    };
    earlyHours.forEach((h, k) => velColumn(h, 0.09, k, earlyVelTop[k], earlyVel[k], earlyVelEdge));
    midVelTop.forEach((top, k) => {
      const h = midStart + k * midStep;
      velColumn(h, midStep, k, top, midVel[k], midVelEdge);
      addCell(cells, x, y, h, h + midStep, midCoreBottom[k], 200, velColor(midVel[(k + 3) % midVel.length] * 0.6));
    });
    rightVelTop.forEach((top, k) => {
      const h = rightStart + k * rightStep;
      velColumn(h, rightStep / 2, k, top, rightVel[k], rightVelEdge);
      velColumn(h + rightStep / 2, rightStep / 2, k + 11, top - 40, rightVel[(k + 7) % rightVel.length], rightVelEdge);
    });
    curtainCells(cells, x, y, curtainA, curtainAStart, (_, i) => velColor(velCurtainA[i] ?? -3), true);
    curtainCells(cells, x, y, curtainB, curtainBStart, (_, i) => velColor(velCurtainB[i] ?? -3), true);
    addGrid(g, x, y, timeTicks, altitudeTicks, 0.7);
    addAxis(g, d3.axisBottom(x), timeTicks, timeMinor, () => "", 0, row1[0]);
    addAxis(g, d3.axisLeft(y), altitudeTicks, altitudeMinor, (d: any) => d, colRight[0], 0);
    addFrame(g, x, y);
    addTitle(g, x, y, "DCR - BASTA");
    addVLabel(g, 818, 228.7, [["Altitude [m AGL]", ""]], 19.6);
    addColorbar(g, 1503, velColor, [-4, 4], [-4, -2, 0, 2, 4], (d: number) => String(d).replace("-", "\u2212"));
    addVLabel(g, 1573, 229, [["Velocity [", ""], ["m. s", "i"], ["\u22121", "s"], ["]", ""]], 16.3);
  }

  // ---- temperature / humidity ----
  {
    const x = d3.scaleLinear().domain([0, 24]).range(colLeft);
    const y = d3.scaleLinear().domain([13.5, 28.65]).range(row2);
    const y2 = d3.scaleLinear().domain([40, 103]).range(row2);
    const g = svg.append("g");
    const tempTicks = d3.range(14, 29, 2);
    addGrid(g, x, y, timeTicks, tempTicks);
    const line = d3.line<number[]>().x((d) => x(d[0])).y((d) => y(d[1]));
    g.append("path").attr("d", line(taSeries)).attr("fill", "none").attr("stroke", "#0ea5f5").attr("stroke-width", 2.7);
    addLegendBox(g, 100.5, 426.7, 76.5, 30.6);
    addLegendLine(g, 105.5, 141.5, 441, "#0ea5f5", "ta", 154);
    const rhLine = d3.line<number[]>().x((d) => x(d[0])).y((d) => y2(d[1]));
    g.append("path").attr("d", rhLine(rhSeries)).attr("fill", "none").attr("stroke", "#ffa500").attr("stroke-width", 2.7);
    addLegendBox(g, 594.4, 434.3, 76.6, 30.6);
    addLegendLine(g, 600, 636, 449, "#ffa500", "rh", 648);
    addAxis(g, d3.axisBottom(x), timeTicks, timeMinor, () => "", 0, row2[0]);
    addAxis(g, d3.axisLeft(y), tempTicks, d3.range(14, 29, 1), (d: any) => d, colLeft[0], 0);
    addAxis(g, d3.axisRight(y2), d3.range(40, 101, 5), d3.range(40, 103, 1), (d: any) => d, colLeft[1], 0);
    addFrame(g, x, y);
    addTitle(g, x, y, "weather station");
    addVLabel(g, 20, 525, [["Temperature [", ""], ["o", "s"], ["C", "i"], ["]", ""]], 19.7);
    addVLabel(g, 745, 525, [["Relative Humidity [%]", ""]], 19.7);
  }

  // ---- wind ----
  {
    const x = d3.scaleLinear().domain([0, 24]).range(colRight);
    const y = d3.scaleLinear().domain([-0.2, 4.6]).range(row2);
    const y2 = d3.scaleLinear().domain([0, 360]).range(row2);
    const g = svg.append("g");
    addGrid(g, x, y, timeTicks, [0, 2, 4]);
    const windSeries = [
      ...windSpeed.map((v, i) => [i * windStep, v]),
      ...windSpeedBusy.map((v, i) => [windSpeedBusyStart + i * windStep, v]),
    ].sort((a, b) => d3.ascending(a[0], b[0]));
    const line = d3.line<number[]>().x((d) => x(d[0])).y((d) => y(d[1]));
    g.append("path").attr("d", line(windSeries)).attr("fill", "none").attr("stroke", "#ff0000").attr("stroke-width", 2.7);
    addLegendBox(g, 895, 426, 159, 31);
    addLegendLine(g, 902, 938, 441.5, "#ff0000", "Wind Speed", 949.5);
    const dots = g.append("g").attr("fill", "#008000");
    const plotDot = (h: number, v: number) =>
      dots.append("circle").attr("cx", x(h)).attr("cy", y2(v)).attr("r", 3.4);
    windDir.forEach((v, i) => plotDot(i * windStep, v));
    dirDense.forEach((v, i) => plotDot(dirDenseStart + i * dirDenseStep, v));
    dirEarly.forEach((v, i) => plotDot(dirEarlyStart + i * windStep, v));
    dirDay.forEach((v, i) => plotDot(dirDayStart + i * windStep, v));
    dirEvening.forEach((v, i) => plotDot(dirEveningStart + i / 24, v));
    dirOutlierHours.forEach((h, i) => plotDot(h, dirOutlierValues[i]));
    addLegendBox(g, 1293, 426, 182, 31);
    g.append("circle").attr("cx", 1316).attr("cy", 441.5).attr("r", 3.4).attr("fill", "#008000");
    g.append("text").attr("x", 1346).attr("y", 441.5).attr("dominant-baseline", "central")
      .attr("font-family", FONT).attr("font-size", 16.5).text("Wind Direction");
    addAxis(g, d3.axisBottom(x), timeTicks, timeMinor, hh, 0, row2[0], 7.5);
    addAxis(g, d3.axisLeft(y), [0, 2, 4], [0, 1, 2, 3, 4], (d: any) => d, colRight[0], 0);
    addAxis(g, d3.axisRight(y2), d3.range(0, 361, 60), d3.range(0, 361, 30), (d: any) => d, colRight[1], 0);
    addFrame(g, x, y);
    addTitle(g, x, y, "weather station");
    addVLabel(g, 814, 525, [["Wind Speed [", ""], ["m. s", "i"], ["\u22121", "s"], ["]", ""]], 19.7);
    addVLabel(g, 1540, 525, [["Wind Direction [", ""], ["o", "s"], ["]", ""]], 19.4);
    addXLabel(g, 1185.4, 682.5, [["Time [UTC]", ""]]);
  }

  // ---- rainfall ----
  {
    const x = d3.scaleLinear().domain([0, 24]).range(colLeft);
    const y = d3.scaleLinear().domain([-0.2, 3.79]).range(row3);
    const g = svg.append("g");
    addGrid(g, x, y, timeTicks, [0, 2]);
    const thies = d3.line<number>().x((_, i) => x(rainHours[i])).y((d) => y(d));
    const station = d3.line<number>().x((_, i) => x(rainStationHours[i])).y((d) => y(d));
    g.append("path").attr("d", thies(rainThies)).attr("fill", "none").attr("stroke", "#f28a66").attr("stroke-width", 2.7);
    g.append("path").attr("d", station(rainStation)).attr("fill", "none").attr("stroke", "#9c9c9c").attr("stroke-width", 2.7);
    addLegendBox(g, 482, 865.7, 198, 56);
    addLegendLine(g, 487.5, 523.5, 879, "#f28a66", "Thies Clima LNM", 535);
    addLegendLine(g, 487.5, 523.5, 906, "#9c9c9c", "Weather Station", 535);
    addAxis(g, d3.axisBottom(x), timeTicks, timeMinor, hh, 0, row3[0], 6.5);
    addAxis(g, d3.axisLeft(y), [0, 2], [0, 1, 2, 3], (d: any) => d, colLeft[0], 0);
    addFrame(g, x, y);
    addTitle(g, x, y, "Disdrometer and Weather station");
    addVLabel(g, 21.4, 824, [["Cumulative rainfall [", ""], ["mm", "i"], ["]", ""]], 19.6);
    addXLabel(g, 389.8, 980.5, [["Time [UTC]", ""]]);
  }

  // ---- fall speed ----
  {
    const x = d3.scaleLinear().domain([0, 5]).range(colRight);
    const y = d3.scaleLinear().domain([0, 10]).range(row3);
    const g = svg.append("g");
    const xt = d3.range(0, 6, 1);
    const yt = d3.range(0, 11, 2);
    addGrid(g, x, y, xt, yt);
    g.append("text").attr("x", x(2)).attr("y", y(4)).attr("font-family", FONT).attr("font-style", "italic")
      .attr("font-size", 18.9).text("No fit");
    addAxis(g, d3.axisBottom(x), xt, d3.range(0, 5.1, 0.5), (d: any) => d, 0, row3[0], 6.5);
    addAxis(g, d3.axisLeft(y), yt, d3.range(0, 11, 1), (d: any) => d, colRight[0], 0);
    addFrame(g, x, y);
    addTitle(g, x, y, "Relationship disdrometer fall speed / drop size");
    addVLabel(g, 814, 823, [["Fall speed [", ""], ["m. s", "i"], ["\u22121", "s"], ["]", ""]], 19.6);
    addXLabel(g, 1185.4, 980.5, [["Diameter [", ""], ["mm", "i"], ["]", ""]]);
  }
}

export default function App() {
  const ref = useRef<SVGSVGElement>(null);
  useEffect(() => {
    if (ref.current) drawChart(ref.current);
  }, []);
  return <svg ref={ref} width={1600} height={1000} style={{ position: "absolute", left: 0, top: 0, background: "#fff" }} />;
}
